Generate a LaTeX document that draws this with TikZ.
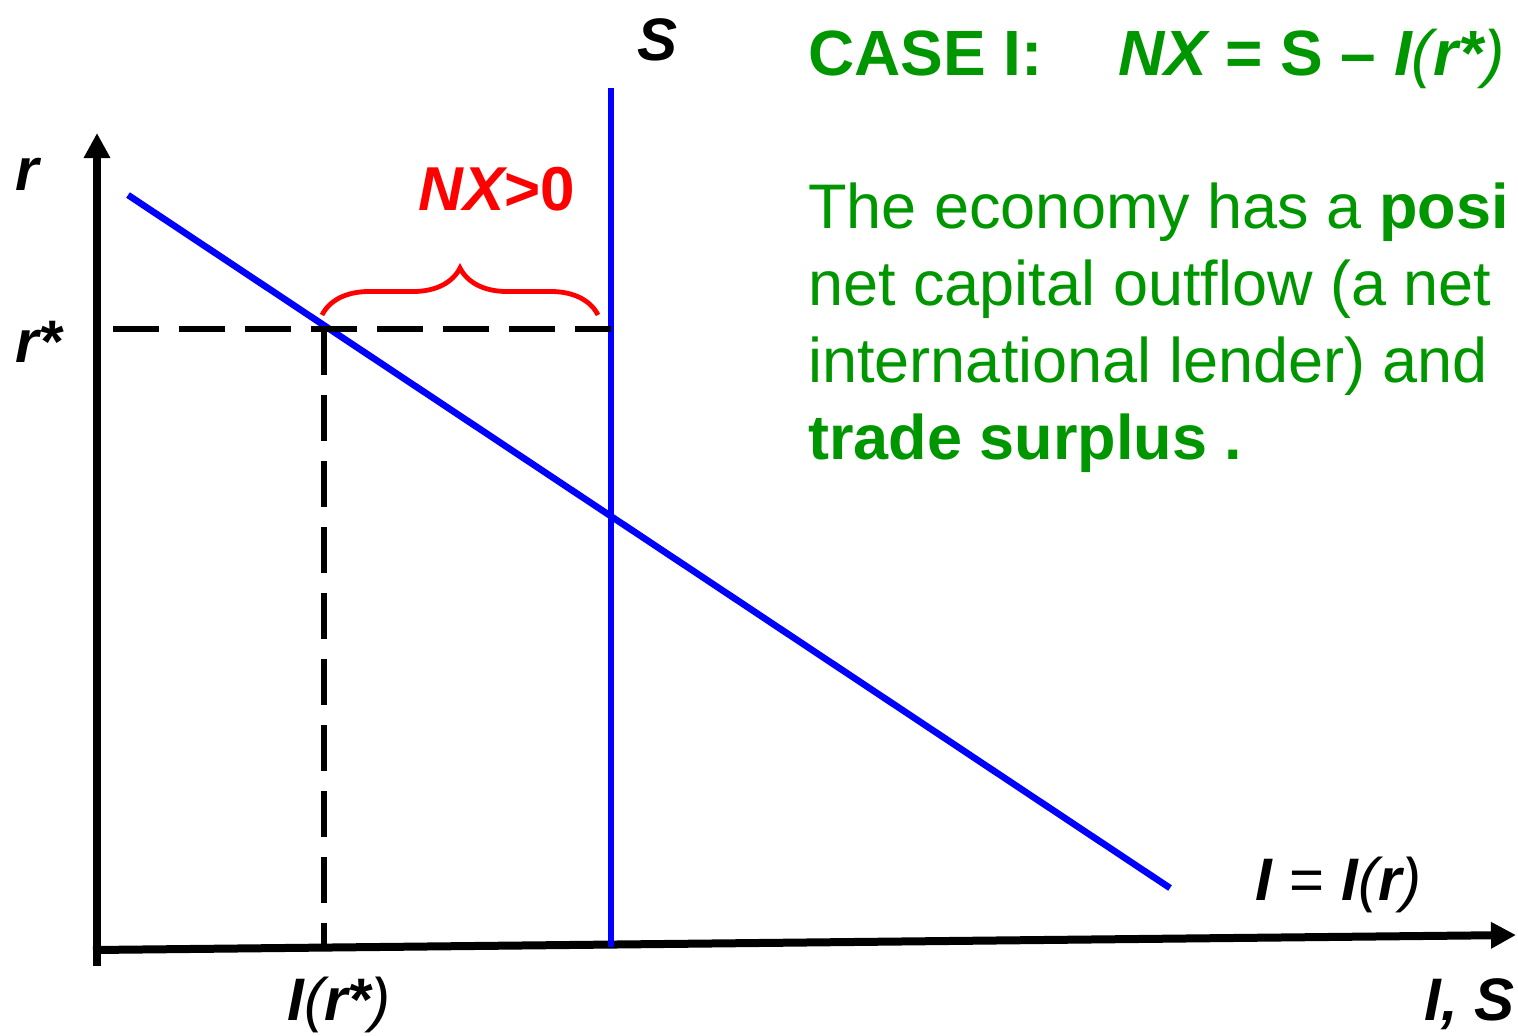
\documentclass[tikz,border=0pt]{standalone}
\usepackage{fontspec}
\setmainfont{Liberation Sans}
\usepackage{xcolor}
\definecolor{caseGreen}{RGB}{0,150,0}
\definecolor{curveBlue}{RGB}{0,0,255}
\definecolor{nxRed}{RGB}{255,0,0}
\usepackage{tikz}
\usetikzlibrary{arrows.meta,positioning,decorations.pathreplacing}
\tikzset{
  axis line/.style={-{Triangle[length=12.5pt,width=12.5pt]}, line width=4pt},
  curve line/.style={curveBlue, line width=3.3pt},
  guide line/.style={line width=3pt, dash pattern=on 23pt off 10pt},
  nx brace/.style={nxRed, line width=2.4pt, decorate, decoration={brace, amplitude=23.5pt}},
  axis label/.style={inner sep=0pt, font=\fontsize{30}{36}\selectfont\bfseries\itshape},
  case title/.style={inner sep=0pt, text=caseGreen, font=\fontsize{32}{38}\selectfont\bfseries},
  case text/.style={inner sep=0pt, text=caseGreen, align=left, font=\fontsize{31.5}{38.5}\selectfont},
}

\begin{document}
\begin{tikzpicture}[x=0.5pt, y=-0.5pt]
  \useasboundingbox (0,0) rectangle (1518,1035);
  % axes
  \coordinate (yFoot) at (97,966);
  \coordinate (yTop) at (97,133);
  \coordinate (xLeft) at (93,950);
  \coordinate (xEnd) at (1516,935);
  \draw[axis line] (yFoot) -- (yTop);
  \draw[axis line] (xLeft) -- (xEnd);
  % investment and saving
  \coordinate (invTop) at (128,195);
  \coordinate (invEnd) at (1170,888);
  \coordinate (savTop) at (611,88);
  \coordinate (savFoot) at (611,947);
  \draw[curve line] (invTop) -- (invEnd);
  \draw[curve line] (savTop) -- (savFoot);
  % world rate r*
  \coordinate (rStarLeft) at (113,329);
  \coordinate (rStarEq) at (324,329);
  \coordinate (rStarS) at (611,329);
  \coordinate (iStarFoot) at (324,948);
  \draw[guide line] (rStarLeft) -- (rStarS);
  \draw[guide line] (rStarEq) -- (iStarFoot);
  % NX brace
  \coordinate (braceLeft) at (322,315);
  \coordinate (braceRight) at (598,315);
  \draw[nx brace] (braceLeft) -- (braceRight);
  \node[axis label, text=nxRed, font=\fontsize{31}{36}\selectfont\bfseries, anchor=base west] (nxLabel) at (418,210) {\itshape NX\upshape>0};
  % labels
  \node[axis label, anchor=base west] (rLabel) at (15,190) {r};
  \node[axis label, anchor=base west] (rStarLabel) at (15,362) {r*};
  \node[axis label, anchor=base west] (sLabel) at (637,60) {S};
  \node[axis label, anchor=base west] (invLabel) at (1255,900) {I \textup{\mdseries =} I\mdseries(\bfseries r\mdseries)};
  \node[axis label, anchor=base west] (iStarLabel) at (287,1020) {I\mdseries(\bfseries r*\mdseries)};
  \node[axis label, anchor=base east] (xLabel) at (1515,1020) {I, S};
  % case text
  \node[case title, anchor=base west] (caseLabel) at (808,75) {CASE I:};
  \node[case title, anchor=base west] (caseEq) at (1118,75) {\itshape NX \upshape= S – \itshape I\mdseries(\bfseries r*\mdseries)};
  \node[case text, anchor=north west] (caseText) at (808,182) {The economy has a \textbf{posi}\\
    net capital outflow (a net\\
    international lender) and\\
    \textbf{trade surplus .}};
\end{tikzpicture}
\end{document}
